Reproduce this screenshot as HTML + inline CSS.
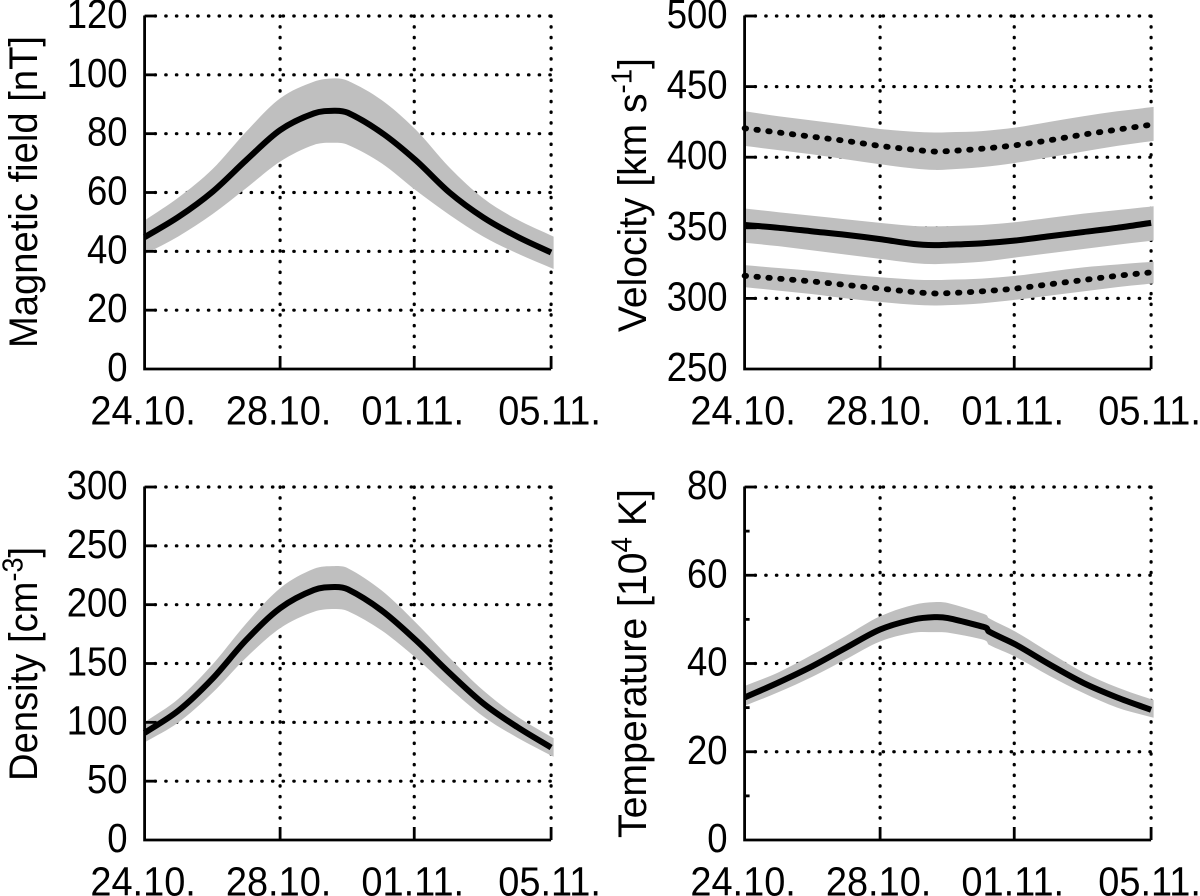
<!DOCTYPE html>
<html>
<head>
<meta charset="utf-8">
<title>Solar wind parameters</title>
<style>
html,body{margin:0;padding:0;background:#fff;width:1200px;height:896px;overflow:hidden}
svg{display:block}
text{font-family:"Liberation Sans",sans-serif;fill:#000}
</style>
</head>
<body>
<svg id="chart" xmlns="http://www.w3.org/2000/svg" width="1200" height="896" viewBox="0 0 1200 896"></svg>
<script>
const days = [0,1,2,3,4,5,5.6,6,7,8,9,10,11,12];
const temperatureDays = [0,1,2,3,4,5,5.6,6,7,7.15,7.2,8,9,10,11,12];
const xTickDays = [0,4,7.96,12];
const xTickLabels = ['24.10.','28.10.','01.11.','05.11.'];

const magneticTicks = [0,20,40,60,80,100,120];
const magneticMean = [44.8,51.7,60.2,71,81.2,86.9,87.8,87.1,80.3,71,60,51.5,45,39.6];
const magneticUpper = [50.5,58.3,67.9,80.7,92,97.7,98.8,98,91.4,81.4,68.5,58,50.8,45];
const magneticLower = [39,45.1,52.6,61.5,70.5,76.2,76.9,76.2,69.9,60.8,52.4,45,39.3,34];

const velocityTicks = [250,300,350,400,450,500];
const velocityHighMean = [420.5,417.5,414.5,411.5,408,405.3,404,404.3,406,408.5,412,416,419.5,423];
const velocityHighUpper = [432.5,429,426,423,420,418,417.5,417.7,418.5,421,425,429,432.5,435.6];
const velocityHighLower = [408,405,402,398.5,395,392,391,391.3,393,396,400,404,408,411.6];
const velocityMidMean = [352,350,347.5,345,342,338.5,337.7,338,339,341,344,347,350,353.5];
const velocityMidUpper = [363.7,361,358.5,356,353.5,351.3,351,351.2,352,354,357,360,362.5,365.3];
const velocityMidLower = [339.4,337,334,331,328,325,324.3,324.6,326,329,332,335,338,341];
const velocityLowMean = [316,314,312,309.5,307,304.5,303.5,303.7,305,307,310,313,316,318.4];
const velocityLowUpper = [323.6,321.5,319.5,317,315,313.3,313,313.2,314,316,319,322,324,326];
const velocityLowLower = [308,305.5,303,300,297.5,295.5,295,295.2,296.5,299,302,305,308,310.6];

const densityTicks = [0,50,100,150,200,250,300];
const densityMean = [91,110,137,170,197,212.5,215,213,195,170,142,116,96,78.6];
const densityUpper = [100,120,149,184,214,230.5,232.8,231,212,185,155,127,105,86.5];
const densityLower = [83,100,125,155,180,194,196.3,194.5,178,155,129,105,87,70.7];

const temperatureTicks = [0,20,40,60,80];
const temperatureMinorTicks = [10,30,50,70];
const temperatureMean = [32.3,35.7,39.4,43.6,47.7,50,50.5,50.3,48.4,48,47.3,44.3,39.8,35.6,32.3,29.5];
const temperatureUpper = [34.9,38,42,46.3,50.7,53.3,53.9,53.7,51.4,50.9,50.3,47.2,42.5,38,34.6,31.7];
const temperatureLower = [30.4,33.5,37,41,45,47,47.1,47,45.5,45,44.3,41.5,37.2,33.3,30,27.7];

const NS = 'http://www.w3.org/2000/svg';
const svg = document.getElementById('chart');

function make(parent, tag, attrs) {
  const el = document.createElementNS(NS, tag);
  for (const k in attrs) el.setAttribute(k, attrs[k]);
  parent.appendChild(el);
  return el;
}

function smooth(pts) {
  const slope = i => {
    const a = pts[Math.max(i - 1, 0)], b = pts[Math.min(i + 1, pts.length - 1)];
    return (b[1] - a[1]) / (b[0] - a[0]);
  };
  let d = '';
  for (let i = 0; i < pts.length - 1; i++) {
    const p1 = pts[i], p2 = pts[i + 1];
    const h = (p2[0] - p1[0]) / 3;
    const c1x = p1[0] + h, c1y = p1[1] + slope(i) * h;
    const c2x = p2[0] - h, c2y = p2[1] - slope(i + 1) * h;
    d += ' C' + c1x.toFixed(2) + ',' + c1y.toFixed(2) + ' ' + c2x.toFixed(2) + ',' + c2y.toFixed(2) + ' ' + p2[0].toFixed(2) + ',' + p2[1].toFixed(2);
  }
  return d;
}

function drawPanel(cfg) {
  const g = make(svg, 'g', {});
  
  
  const L = cfg.left, R = cfg.left + 406.5, T = cfg.top, B = cfg.top + 353;
  const yMin = cfg.yTicks[0], yMax = cfg.yTicks[cfg.yTicks.length - 1];
  const x = d => L + d / 12 * (R - L);
  const y = v => B - (v - yMin) / (yMax - yMin) * (B - T);

  // grid
  cfg.yTicks.forEach(v => {
    if (v === yMin) return;
    const line = make(g, 'line', {x1: L + 10.5, x2: R + 1, y1: y(v), y2: y(v), stroke: '#000', 'stroke-width': 3.2, 'stroke-linecap': 'round', 'stroke-dasharray': '0.4 10.27'});
    
    
  });
  xTickDays.forEach((d, i) => {
    if (i === 0) return;
    const line = make(g, 'line', {x1: x(d), x2: x(d), y1: T, y2: B - 18, stroke: '#000', 'stroke-width': 3.2, 'stroke-linecap': 'round', 'stroke-dasharray': '0.4 10.27'});
    
    
  });

  // bands
  cfg.series.forEach(s => {
    const ds = s.days || days;
    const last = ds.length - 1;
    const up = ds.map((d, i) => [x(d) + (i === last ? 2.5 : 0), y(s.upper[i])]);
    const lo = ds.map((d, i) => [x(d) + (i === last ? 2.5 : 0), y(s.lower[i])]).reverse();
    const path = 'M' + up[0][0] + ',' + up[0][1] + smooth(up) + ' L' + lo[0][0] + ',' + lo[0][1] + smooth(lo) + ' Z';
    const band = make(g, 'path', {d: path, fill: '#bfbfbf', stroke: 'none'});
    
    
  });

  // axes
  const axisPath = 'M' + L + ',' + (T - 0.5) + ' V' + B + ' H' + R;
  const axis = make(g, 'path', {d: axisPath, fill: 'none', stroke: '#000', 'stroke-width': 2.8});
  
  
  cfg.yTicks.forEach(v => {
    if (v === yMin) return;
    const t = make(g, 'line', {x1: L, x2: L + 12, y1: y(v), y2: y(v), stroke: '#000', 'stroke-width': 2.8});
    
    
  });
  (cfg.minorTicks || []).forEach(v => {
    const t = make(g, 'line', {x1: L, x2: L + 5, y1: y(v), y2: y(v), stroke: '#000', 'stroke-width': 2.8});
    
    
  });
  xTickDays.forEach((d, i) => {
    if (i === 0) return;
    const t = make(g, 'line', {x1: x(d), x2: x(d), y1: B, y2: B - 13, stroke: '#000', 'stroke-width': 2.8});
    
    
  });

  // series lines
  cfg.series.forEach(s => {
    const ds = s.days || days;
    const pts = ds.map((d, i) => [x(d), y(s.mean[i])]);
    const path = 'M' + pts[0][0] + ',' + pts[0][1] + smooth(pts);
    const attrs = {d: path, fill: 'none', stroke: '#000', 'stroke-width': 6};
    if (s.dotted) {
      attrs['stroke-dasharray'] = '1.5 10.4';
      attrs['stroke-linecap'] = 'round';
      attrs['stroke-width'] = 5.8;
    }
    const line = make(g, 'path', attrs);
    
    
  });

  // tick labels
  cfg.yTicks.forEach(v => {
    const t = make(g, 'text', {transform: 'translate(' + (L - 17) + ',' + (y(v) + 12) + ') scale(1,1.12)', 'text-anchor': 'end', 'font-size': 36.5});
    t.textContent = String(v);
    
    
  });
  xTickDays.forEach((d, i) => {
    const t = make(g, 'text', {transform: 'translate(' + (x(d) - 1.5) + ',' + (B + 55.5) + ') scale(1.04,1.12)', 'text-anchor': 'middle', 'font-size': 36.5});
    t.textContent = xTickLabels[i];
    
    
  });

  // y title
  const title = make(g, 'text', {transform: 'translate(' + cfg.titleX + ',' + cfg.titleY + ') rotate(-90) scale(' + (cfg.titleStretch || 1) + ',1.05)', 'font-size': 38.2});
  
  
  cfg.title.forEach(part => {
    const ts = make(title, 'tspan', part.sup ? {'font-size': 27, dy: -14} : (part.after ? {dy: 14} : {}));
    ts.textContent = part.text;
  });
}

drawPanel({
  name: 'magnetic-field', left: 144.6, top: 16, yTicks: magneticTicks,
  titleX: 37, titleY: 348,
  title: [{text: 'Magnetic field [nT]'}],
  series: [{name: 'magnetic-field', mean: magneticMean, upper: magneticUpper, lower: magneticLower}]
});
drawPanel({
  name: 'velocity', left: 744.6, top: 16, yTicks: velocityTicks,
  titleX: 646, titleY: 332, titleStretch: 1.022,
  title: [{text: 'Velocity [km s'}, {text: '-1', sup: true}, {text: ']', after: true}],
  series: [
    {name: 'velocity-high', mean: velocityHighMean, upper: velocityHighUpper, lower: velocityHighLower, dotted: true},
    {name: 'velocity-mid', mean: velocityMidMean, upper: velocityMidUpper, lower: velocityMidLower},
    {name: 'velocity-low', mean: velocityLowMean, upper: velocityLowUpper, lower: velocityLowLower, dotted: true}
  ]
});
drawPanel({
  name: 'density', left: 144.6, top: 487, yTicks: densityTicks,
  titleX: 37, titleY: 781,
  title: [{text: 'Density [cm'}, {text: '-3', sup: true}, {text: ']', after: true}],
  series: [{name: 'density', mean: densityMean, upper: densityUpper, lower: densityLower}]
});
drawPanel({
  name: 'temperature', left: 744.6, top: 487, yTicks: temperatureTicks, minorTicks: temperatureMinorTicks,
  titleX: 646, titleY: 838, titleStretch: 1.027,
  title: [{text: 'Temperature [10'}, {text: '4', sup: true}, {text: ' K]', after: true}],
  series: [{name: 'temperature', days: temperatureDays, mean: temperatureMean, upper: temperatureUpper, lower: temperatureLower}]
});
</script>
</body>
</html>
